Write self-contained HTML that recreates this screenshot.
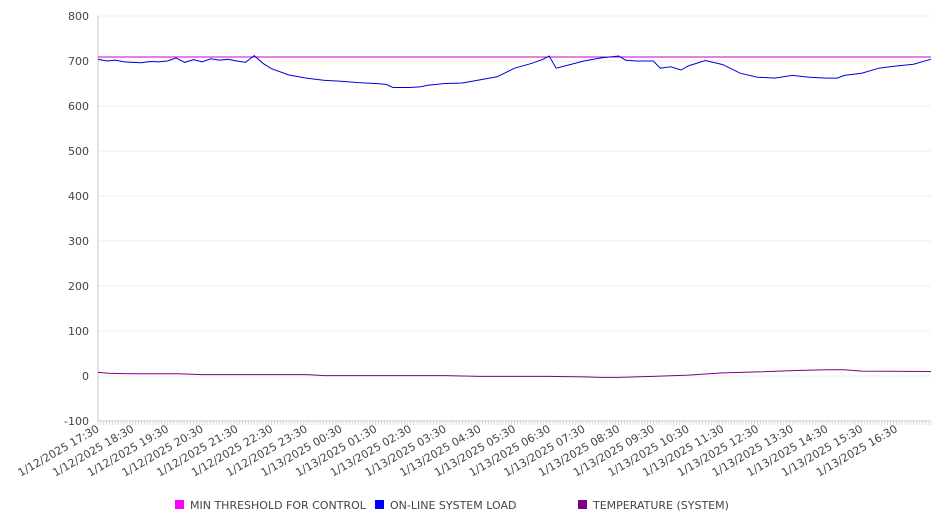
<!DOCTYPE html>
<html><head><meta charset="utf-8"><style>
body{margin:0;background:#fff;font-family:"DejaVu Sans","Liberation Sans",sans-serif;}
svg text{font-family:"DejaVu Sans","Liberation Sans",sans-serif;font-size:11px;fill:#444;}
</style></head><body>
<svg id="chart" width="946" height="526"></svg>
<script>
const yTicks=[800,700,600,500,400,300,200,100,0,-100];
const xLabels=["1/12/2025 17:30","1/12/2025 18:30","1/12/2025 19:30","1/12/2025 20:30","1/12/2025 21:30","1/12/2025 22:30","1/12/2025 23:30","1/13/2025 00:30","1/13/2025 01:30","1/13/2025 02:30","1/13/2025 03:30","1/13/2025 04:30","1/13/2025 05:30","1/13/2025 06:30","1/13/2025 07:30","1/13/2025 08:30","1/13/2025 09:30","1/13/2025 10:30","1/13/2025 11:30","1/13/2025 12:30","1/13/2025 13:30","1/13/2025 14:30","1/13/2025 15:30","1/13/2025 16:30"];
const thresholdHours=[0,24];
const thresholdValues=[709,709];
const loadHours=[0,0.25,0.5,0.75,1,1.25,1.5,1.75,2,2.25,2.5,2.75,3,3.25,3.5,3.75,4,4.25,4.5,4.75,5,5.5,6,6.5,7,7.5,8,8.3,8.5,9,9.3,9.5,10,10.5,11,11.5,12,12.5,12.8,13,13.2,13.5,14,14.5,15,15.2,15.5,16,16.2,16.5,16.8,17,17.5,18,18.5,19,19.5,20,20.5,21,21.3,21.5,22,22.5,23,23.5,24];
const loadValues=[704,700,702,698,697,696,699,698,700,707,697,703,698,705,702,704,700,697,712,695,683,669,662,657,655,652,650,648,641,641,643,646,650,651,658,665,684,695,703,711,684,690,700,707,711,702,700,700,684,687,680,689,701,692,673,664,662,668,664,662,662,668,673,684,689,693,704];
const tempHours=[0,0.3,1,2.3,3,4,6,6.3,6.5,7,10,11,13,14,14.5,15,16,17,18,19,20,21,21.5,22,24];
const tempValues=[8,6,5,5,3,3,3,2,1,1,1,-1,-1,-2,-3,-3,-1,2,7,9,12,14,14,11,10];
const X0=98,X1=931,Y0=16,Y1=421;
const xs=h=>X0+(X1-X0)*h/24;
const ys=v=>Y0+(800-v)*(Y1-Y0)/900;
const svg=document.getElementById('chart');const NS='http://www.w3.org/2000/svg';
function mk(t,a,p){const e=document.createElementNS(NS,t);for(const k in a)e.setAttribute(k,a[k]);(p||svg).appendChild(e);return e;}
yTicks.forEach(v=>{
 const g=mk('line',{x1:X0,x2:X1,y1:ys(v),y2:ys(v),stroke:'#ededed'});
 
 
 const t=mk('text',{x:89,y:ys(v)+4,'text-anchor':'end'});t.textContent=v;
 
 
});
const ax=mk('line',{x1:X0,x2:X0,y1:Y0,y2:Y1,stroke:'#c8c8c8'});


const bx=mk('line',{x1:X0,x2:X1,y1:Y1,y2:Y1,stroke:'#c8c8c8'});


for(let m=0;m<=24*12;m++){const x=xs(m/12);const tk=mk('line',{x1:x,x2:x,y1:Y1,y2:Y1+4,stroke:'#ccc','stroke-width':0.7});
 
 }
xLabels.forEach((s,i)=>{const x=xs(i);const t=mk('text',{x:0,y:0,'text-anchor':'end',transform:`translate(${x+2},${Y1+10}) rotate(-30)`});t.textContent=s;
 
 });
function series(hs,vs,c,name){const d=hs.map((h,i)=>(i?'L':'M')+xs(h).toFixed(1)+' '+ys(vs[i]).toFixed(1)).join(' ');
 const p=mk('path',{d:d,fill:'none',stroke:c,'stroke-width':1});
 
 }
series(thresholdHours,thresholdValues,'#cc00cc','min-threshold-line');
series(loadHours,loadValues,'#0000dd','system-load-line');
series(tempHours,tempValues,'#800080','temperature-line');
const leg=[['#ff00ff','MIN THRESHOLD FOR CONTROL',175],['#0000ff','ON-LINE SYSTEM LOAD',375],['#800080','TEMPERATURE (SYSTEM)',578]];
leg.forEach(l=>{const r=mk('rect',{x:l[2],y:500,width:9,height:9,fill:l[0]});
 
 
 const t=mk('text',{x:l[2]+15,y:509});t.textContent=l[1];
 
 });
</script>
</body></html>
